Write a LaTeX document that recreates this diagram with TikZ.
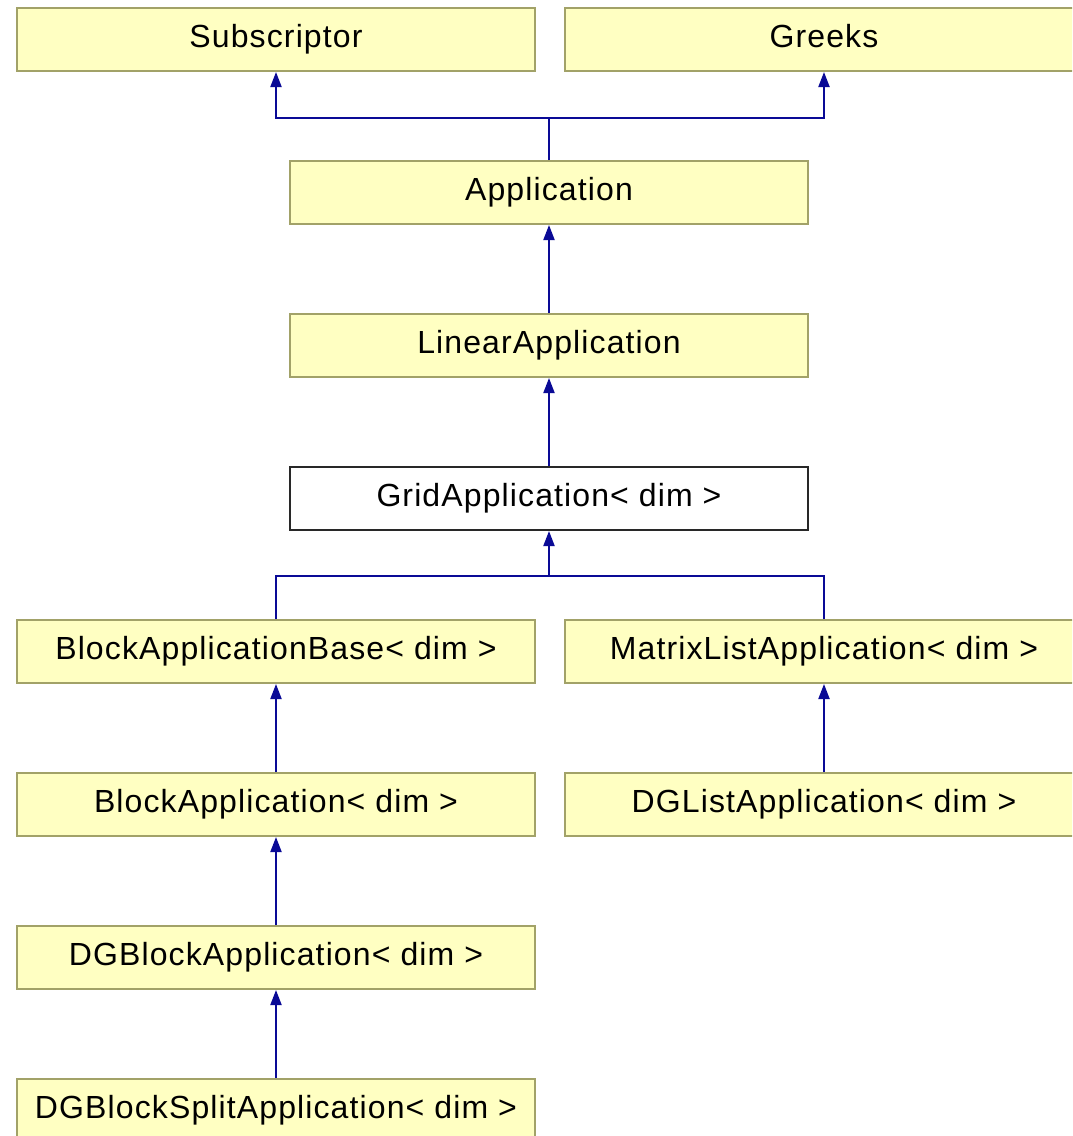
\documentclass[tikz,border=0pt]{standalone}
\usepackage{fontspec}
\setmainfont{Liberation Sans}[LetterSpace=3.5]
\usetikzlibrary{arrows.meta}
\definecolor{boxfill}{RGB}{255,255,194}
\definecolor{boxline}{RGB}{162,162,104}
\definecolor{edgeblue}{RGB}{10,10,150}
\definecolor{gridline}{RGB}{40,40,40}
\tikzset{
  cls/.style={draw=boxline, fill=boxfill, line width=2pt, minimum width=518pt, minimum height=63pt,
    inner sep=0pt, text height=24pt, text depth=8pt, font=\fontsize{32}{36}\selectfont},
  gridcls/.style={cls, draw=gridline, fill=white},
  inh/.style={draw=edgeblue, line width=2pt, -{Triangle[width=11pt,length=15pt]}},
  plain/.style={draw=edgeblue, line width=2pt}
}
\begin{document}
\begin{tikzpicture}[x=1pt,y=-1pt]
\useasboundingbox (0,0) rectangle (1072,1136);
\clip (0,0) rectangle (1072,1136);
\node[cls] (sub) at (276,39.5) {Subscriptor};
\node[cls] (gre) at (824,39.5) {Greeks};
\node[cls] (app) at (549,192.5) {Application};
\node[cls] (lin) at (549,345.5) {LinearApplication};
\node[gridcls] (grid) at (549,498.5) {GridApplication< dim >};
\node[cls] (bab) at (276,651.5) {BlockApplicationBase< dim >};
\node[cls] (mla) at (824,651.5) {MatrixListApplication< dim >};
\node[cls] (ba) at (276,804.5) {BlockApplication< dim >};
\node[cls] (dgl) at (824,804.5) {DGListApplication< dim >};
\node[cls] (dgb) at (276,957.5) {DGBlockApplication< dim >};
\node[cls] (dgs) at (276,1110.5) {DGBlockSplitApplication< dim >};
% top fork
\coordinate (j1) at (549,118);
\draw[plain] (app.north) -- (j1);
\draw[inh] (j1) -| (sub.south);
\draw[inh] (j1) -| (gre.south);
\draw[inh] (lin.north) -- (app.south);
\draw[inh] (grid.north) -- (lin.south);
% middle fork
\coordinate (j2) at (549,576);
\draw[inh] (j2) -- (grid.south);
\draw[plain] (bab.north) |- (j2);
\draw[plain] (mla.north) |- (j2);
\draw[inh] (ba.north) -- (bab.south);
\draw[inh] (dgl.north) -- (mla.south);
\draw[inh] (dgb.north) -- (ba.south);
\draw[inh] (dgs.north) -- (dgb.south);
\end{tikzpicture}
\end{document}
